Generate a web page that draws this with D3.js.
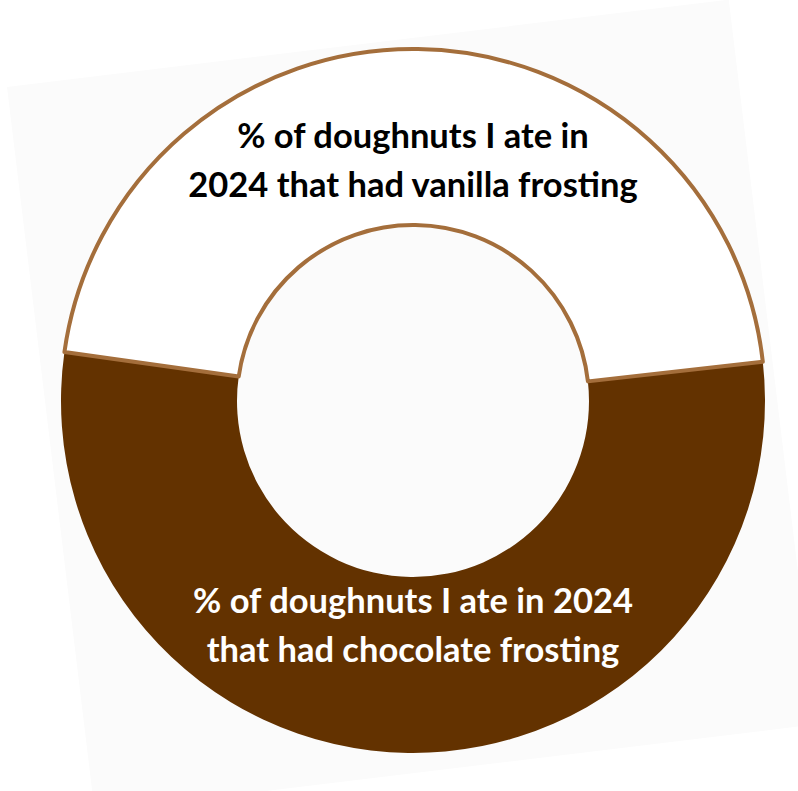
<!DOCTYPE html>
<html>
<head>
<meta charset="utf-8">
<script src="https://cdn.jsdelivr.net/npm/d3@7"></script>
<style>
  html, body { margin: 0; padding: 0; background: #fff; }
  svg { display: block; }
</style>
</head>
<body>
<svg id="canvas" width="798" height="791"></svg>
<script>
// doughnut frosting split for 2024
const flavours = ['vanilla', 'chocolate'];
const shares = [46, 54];
const labelLines = [
  ['% of doughnuts I ate in', '2024 that had vanilla frosting'],
  ['% of doughnuts I ate in 2024', 'that had chocolate frosting']
];

const width = 798;
const height = 791;
const cx = 413;
const cy = 401;
const outerR = 352;
const innerR = 176;

const canvas = d3.select('#canvas');

// faint tilted backing card
canvas
  .append('rect')
  .attr('x', 0)
  .attr('y', 0)
  .attr('width', 727)
  .attr('height', 730)
  .attr('fill', '#fbfbfb')
  .attr('transform', 'translate(7,87) rotate(-6.9)');

const colour = d3.scaleOrdinal().domain(flavours).range(['#ffffff', '#633200']);
const textColour = d3.scaleOrdinal().domain(flavours).range(['#000000', '#ffffff']);

const pie = d3
  .pie()
  .sort(null)
  .startAngle((-82 * Math.PI) / 180)
  .endAngle((278 * Math.PI) / 180);

const arcs = pie(shares);

const arc = d3.arc().innerRadius(innerR).outerRadius(outerR);

const g = canvas.append('g').attr('transform', `translate(${cx},${cy})`);

// chocolate first so the vanilla outline sits on top of the boundary
g.selectAll('path')
  .data(arcs.slice().reverse())
  .enter()
  .append('path')
  .attr('d', arc)
  .attr('fill', (d) => colour(flavours[d.index]))
  .attr('stroke', (d) => (d.index === 0 ? '#a46e3b' : 'none'))
  .attr('stroke-width', 4)
  .attr('stroke-linejoin', 'round');

// labels
const labelY = [
  [148, 197],
  [613, 662]
];

labelLines.forEach((lines, i) => {
  lines.forEach((line, j) => {
    canvas
      .append('text')
      .attr('x', cx)
      .attr('y', labelY[i][j])
      .attr('text-anchor', 'middle')
      .attr('font-family', 'Lato, "Open Sans", sans-serif')
      .attr('font-weight', 'bold')
      .attr('font-size', 34.5)
      .attr('fill', textColour(flavours[i]))
      .text(line);
  });
});
</script>
</body>
</html>
